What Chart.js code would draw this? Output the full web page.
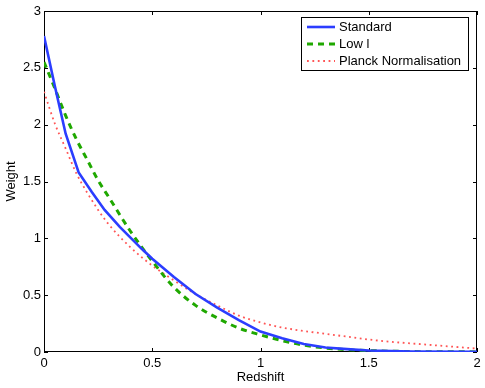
<!DOCTYPE html>
<html>
<head>
<meta charset="utf-8">
<script src="https://cdn.jsdelivr.net/npm/chart.js@4/dist/chart.umd.min.js"></script>
<style>
  html, body { margin: 0; padding: 0; background: #fff; }
  canvas { display: block; }
</style>
</head>
<body>
<canvas id="weightChart" width="485" height="388"></canvas>
<script>
// values
const seriesNames = ['Standard', 'Low l', 'Planck Normalisation'];

const standardX = [0, 0.05, 0.1, 0.16, 0.22, 0.28, 0.35, 0.45, 0.5, 0.6, 0.7, 0.8, 0.9, 1.0, 1.1, 1.2, 1.3, 1.4, 1.5, 1.7, 2.0];
const standardY = [2.78, 2.34, 1.92, 1.58, 1.41, 1.25, 1.10, 0.91, 0.82, 0.66, 0.51, 0.39, 0.28, 0.18, 0.12, 0.07, 0.04, 0.025, 0.013, 0.004, 0.001];

const lowLX = [0, 0.05, 0.1, 0.15, 0.2, 0.25, 0.3, 0.4, 0.5, 0.6, 0.7, 0.8, 0.9, 1.0, 1.1, 1.2, 1.3, 1.4, 1.5, 1.7, 2.0];
const lowLY = [2.55, 2.32, 2.08, 1.87, 1.69, 1.51, 1.36, 1.06, 0.80, 0.57, 0.41, 0.30, 0.21, 0.15, 0.10, 0.06, 0.035, 0.02, 0.012, 0.004, 0.001];

const planckX = [0, 0.05, 0.1, 0.15, 0.2, 0.25, 0.3, 0.4, 0.5, 0.6, 0.7, 0.8, 0.9, 1.0, 1.1, 1.2, 1.3, 1.4, 1.5, 1.6, 1.7, 1.8, 1.9, 2.0];
const planckY = [2.29, 2.01, 1.79, 1.57, 1.40, 1.25, 1.12, 0.92, 0.76, 0.63, 0.51, 0.41, 0.32, 0.26, 0.215, 0.185, 0.16, 0.135, 0.11, 0.09, 0.075, 0.06, 0.045, 0.03];

const xTicks = [0, 0.5, 1, 1.5, 2];
const yTicks = [0, 0.5, 1, 1.5, 2, 2.5, 3];

const fontFamily = '"Liberation Sans", Arial, Helvetica, sans-serif';

function toPoints(xs, ys) {
    return xs.map((x, i) => ({ x: x, y: ys[i] }));
}

// MATLAB style box with inward ticks on all four sides
const framePlugin = {
    id: 'frame',
    beforeDatasetsDraw(chart) {
        const { ctx, chartArea: a, scales } = chart;
        const len = 4;
        ctx.save();
        ctx.strokeStyle = '#000';
        ctx.lineWidth = 1;
        ctx.strokeRect(Math.round(a.left) + 0.5, Math.round(a.top) + 0.5,
            Math.round(a.right - a.left) - 1, Math.round(a.bottom - a.top) - 1);
        ctx.beginPath();
        xTicks.forEach(v => {
            const px = Math.round(scales.x.getPixelForValue(v)) + 0.5;
            ctx.moveTo(px, a.bottom); ctx.lineTo(px, a.bottom - len);
            ctx.moveTo(px, a.top); ctx.lineTo(px, a.top + len);
        });
        yTicks.forEach(v => {
            const py = Math.round(scales.y.getPixelForValue(v)) + 0.5;
            ctx.moveTo(a.left, py); ctx.lineTo(a.left + len, py);
            ctx.moveTo(a.right, py); ctx.lineTo(a.right - len, py);
        });
        ctx.stroke();
        ctx.restore();
    }
};

// legend box in the upper right corner
const legendBoxPlugin = {
    id: 'legendBox',
    afterDraw(chart) {
        const { ctx } = chart;
        const box = { x: 301.5, y: 17.5, w: 167, h: 53 };
        ctx.save();
        ctx.fillStyle = '#fff';
        ctx.fillRect(box.x, box.y, box.w, box.h);
        ctx.strokeStyle = '#000';
        ctx.lineWidth = 1;
        ctx.strokeRect(box.x, box.y, box.w, box.h);
        chart.data.datasets.forEach((ds, i) => {
            const y = 27 + i * 17;
            ctx.beginPath();
            ctx.strokeStyle = ds.borderColor;
            ctx.lineWidth = ds.borderWidth;
            ctx.setLineDash(ds.borderDash || []);
            ctx.moveTo(307, y);
            ctx.lineTo(335, y);
            ctx.stroke();
            ctx.setLineDash([]);
            ctx.fillStyle = '#000';
            ctx.font = '13px ' + fontFamily;
            ctx.textBaseline = 'middle';
            ctx.fillText(ds.label, 339, y + 0.5);
        });
        ctx.restore();
    }
};

const ctx = document.getElementById('weightChart').getContext('2d');

new Chart(ctx, {
    type: 'line',
    data: {
        datasets: [
            {
                label: seriesNames[0],
                data: toPoints(standardX, standardY),
                borderColor: '#2b3dff',
                borderWidth: 2.6,
                pointRadius: 0,
                tension: 0,
                fill: false
            },
            {
                label: seriesNames[1],
                data: toPoints(lowLX, lowLY),
                borderColor: '#1fa800',
                borderWidth: 3,
                borderDash: [6, 5],
                pointRadius: 0,
                cubicInterpolationMode: 'monotone',
                fill: false
            },
            {
                label: seriesNames[2],
                data: toPoints(planckX, planckY),
                borderColor: '#ff5555',
                borderWidth: 1.8,
                borderDash: [1.8, 3.6],
                pointRadius: 0,
                cubicInterpolationMode: 'monotone',
                fill: false
            }
        ]
    },
    options: {
        responsive: false,
        animation: false,
        devicePixelRatio: 1,
        layout: { padding: { top: 11, right: 8, left: 0, bottom: 0 } },
        plugins: {
            legend: { display: false },
            tooltip: { enabled: false }
        },
        scales: {
            x: {
                type: 'linear',
                min: 0,
                max: 2,
                afterFit: scale => { scale.height = 36; },
                afterBuildTicks: scale => { scale.ticks = xTicks.map(v => ({ value: v })); },
                grid: { display: false, drawTicks: false },
                border: { display: false },
                ticks: {
                    padding: 4,
                    color: '#000',
                    maxRotation: 0,
                    callback: v => String(v),
                    font: { family: fontFamily, size: 13 }
                },
                title: {
                    display: true,
                    text: 'Redshift',
                    color: '#000',
                    padding: { top: 0, bottom: 3 },
                    font: { family: fontFamily, size: 13 }
                }
            },
            y: {
                type: 'linear',
                min: 0,
                max: 3,
                afterFit: scale => { scale.width = 44; },
                afterBuildTicks: scale => { scale.ticks = yTicks.map(v => ({ value: v })); },
                grid: { display: false, drawTicks: false },
                border: { display: false },
                ticks: {
                    padding: 3,
                    color: '#000',
                    callback: v => String(v),
                    font: { family: fontFamily, size: 13 }
                },
                title: {
                    display: true,
                    text: 'Weight',
                    color: '#000',
                    padding: { top: 4, bottom: 0 },
                    font: { family: fontFamily, size: 13 }
                }
            }
        }
    },
    plugins: [framePlugin, legendBoxPlugin]
});
</script>
</body>
</html>
